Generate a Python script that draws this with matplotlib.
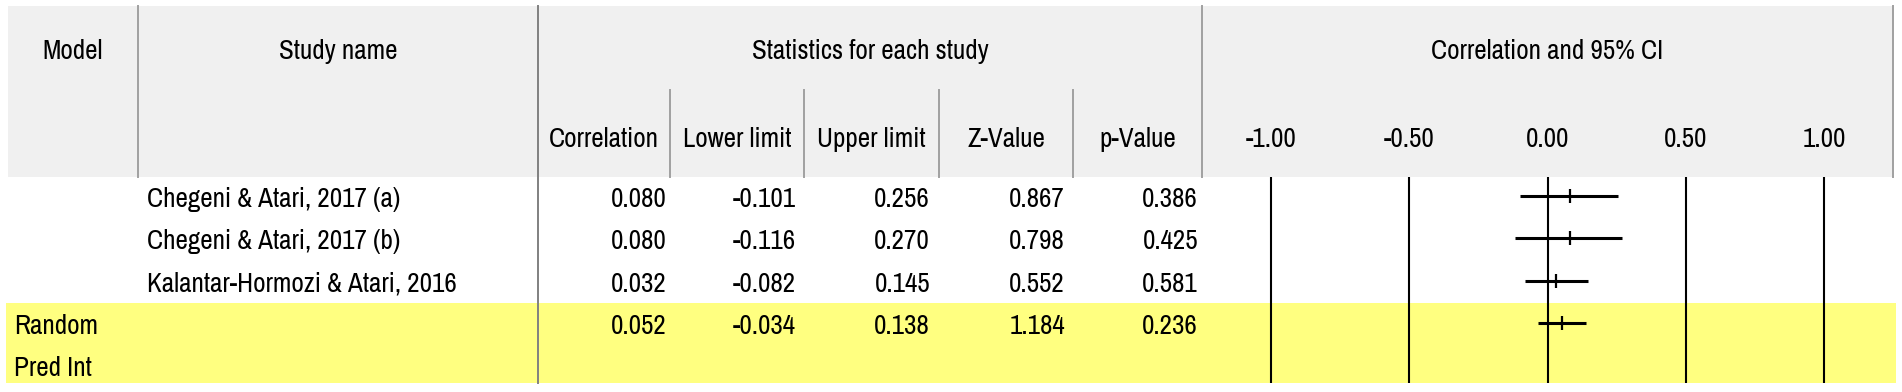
import matplotlib
matplotlib.use("Agg")
import matplotlib.pyplot as plt
from matplotlib.patches import Rectangle

plt.rcParams["font.family"] = ["Archivo Narrow", "DejaVu Sans"]

# table data
models = ["", "", "", "Random", "Pred Int"]
studies = ["Chegeni & Atari, 2017 (a)", "Chegeni & Atari, 2017 (b)",
           "Kalantar-Hormozi & Atari, 2016", "", ""]
correlation = [0.080, 0.080, 0.032, 0.052]
lower = [-0.101, -0.116, -0.082, -0.034]
upper = [0.256, 0.270, 0.145, 0.138]
z_value = [0.867, 0.798, 0.552, 1.184]
p_value = [0.386, 0.425, 0.581, 0.236]
stat_headers = ["Correlation", "Lower limit", "Upper limit", "Z-Value", "p-Value"]
scale_ticks = [-1.0, -0.5, 0.0, 0.5, 1.0]

W, H = 1902, 392
FS = 19.5
fig = plt.figure(figsize=(W / 100, H / 100), dpi=100)
bg = fig.add_axes([0, 0, 1, 1])
bg.set_xlim(0, W); bg.set_ylim(H, 0); bg.axis("off")

# layout in pixels
head_top, head_bot, body_bot = 6, 177, 383
left, right = 8, 1893
model_div, study_div, forest_div = 138, 538, 1202
sub_divs = [538, 670, 804, 939, 1073, 1202]
val_right = [667, 796, 930, 1065, 1198]
row0, row_h = 196, 42.25
row_y = [row0 + row_h * i for i in range(len(models))]
base_off = 11  # baseline below row centre

bg.add_patch(Rectangle((left, head_top), right - left, head_bot - head_top,
                       facecolor="#f0f0f0", edgecolor="none"))
bg.add_patch(Rectangle((6, 303), 1896 - 6, body_bot - 303,
                       facecolor="#ffff80", edgecolor="none"))

gray = "#a0a0a0"
for x in (model_div, forest_div, right):
    bg.plot([x, x], [head_top, head_bot], color=gray, lw=1.4)
bg.plot([study_div, study_div], [head_top, body_bot], color="#808080", lw=1.4)
for x in sub_divs[1:-1]:
    bg.plot([x, x], [90, head_bot], color=gray, lw=1.4)

y_top, y_sub = 59, 147  # baselines
bg.text((left + model_div) / 2, y_top, "Model", ha="center", va="baseline", fontsize=FS)
bg.text((model_div + study_div) / 2, y_top, "Study name", ha="center", va="baseline", fontsize=FS)
bg.text((study_div + forest_div) / 2, y_top, "Statistics for each study",
        ha="center", va="baseline", fontsize=FS)
bg.text((forest_div + right) / 2, y_top, "Correlation and 95% CI",
        ha="center", va="baseline", fontsize=FS)
for i, h in enumerate(stat_headers):
    bg.text((sub_divs[i] + sub_divs[i + 1]) / 2, y_sub, h, ha="center", va="baseline", fontsize=FS)

for i, y in enumerate(row_y):
    if models[i]:
        bg.text(14, y + base_off, models[i], ha="left", va="baseline", fontsize=FS)
    if studies[i]:
        bg.text(147, y + base_off, studies[i], ha="left", va="baseline", fontsize=FS)

cols = [correlation, lower, upper, z_value, p_value]
for c, vals in enumerate(cols):
    for i, v in enumerate(vals):
        bg.text(val_right[c], row_y[i] + base_off, f"{v:.3f}", ha="right", va="baseline", fontsize=FS)

# forest plot
fx0, fx1 = forest_div, right
fa = fig.add_axes([fx0 / W, (H - body_bot) / H, (fx1 - fx0) / W, (body_bot - head_bot) / H])
fa.set_xlim(-1.25, 1.25)
fa.set_ylim((body_bot - row0) / row_h, (head_bot - row0) / row_h)
fa.axis("off")
fa.patch.set_visible(False)
for t in scale_ticks:
    fa.axvline(t, color="black", lw=1.5)
    fa.text(t, 1 + (head_bot - y_sub) / (body_bot - head_bot), f"{t:.2f}",
            transform=fa.get_xaxis_transform(), ha="center", va="baseline",
            fontsize=FS, clip_on=False)
rows = list(range(len(correlation)))
fa.hlines(rows, lower, upper, color="black", lw=2.2)
fa.plot(correlation, rows, ls="none", marker="|", markersize=10, mew=1.6, color="black")

fig.savefig("out.png", dpi=100)
